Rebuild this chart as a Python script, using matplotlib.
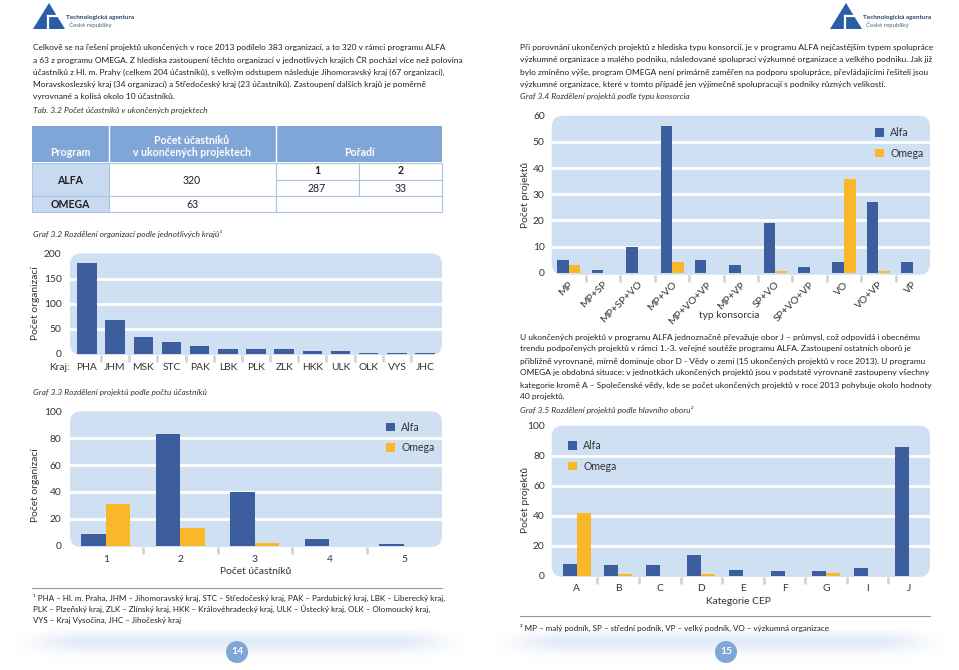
import numpy as np
import matplotlib.pyplot as plt
import matplotlib.transforms as mtransforms
from matplotlib.patches import Rectangle, FancyBboxPatch, Circle, Polygon

W, H = 959, 670
plt.rcParams['font.family'] = ['Lato', 'DejaVu Sans']

ALFA_C = '#3c5e9e'
OMEGA_C = '#fbb72a'
BG_C = '#cfe0f3'
TXT = '#231f20'
LBL = '#333333'

# Graf 3.2 - organizace podle kraju
kraje = ['PHA', 'JHM', 'MSK', 'STC', 'PAK', 'LBK', 'PLK', 'ZLK', 'HKK', 'ULK', 'OLK', 'VYS', 'JHC']
kraje_pocet = [182, 67, 34, 23, 15, 10, 10, 10, 6, 6, 2, 2, 1]

# Graf 3.3 - projekty podle poctu ucastniku
ucastnici = ['1', '2', '3', '4', '5']
ucast_alfa = [9, 83, 40, 5, 1]
ucast_omega = [31, 13, 2, 0, 0]

# Graf 3.4 - typ konsorcia
konsorcia = ['MP', 'MP+SP', 'MP+SP+VO', 'MP+VO', 'MP+VO+VP', 'MP+VP',
             'SP+VO', 'SP+VO+VP', 'VO', 'VO+VP', 'VP']
kons_alfa = [5, 1, 10, 56, 5, 3, 19, 2, 4, 27, 4]
kons_omega = [3, 0, 0, 4, 0, 0, 0.5, 0, 36, 0.5, 0]

# Graf 3.5 - hlavni obor
obory = ['A', 'B', 'C', 'D', 'E', 'F', 'G', 'I', 'J']
obor_alfa = [8, 7, 7, 14, 4, 3, 3, 5, 86]
obor_omega = [42, 1, 0, 1, 0, 0, 2, 0, 0]

# Tab 3.2
tab_program = ['ALFA', 'OMEGA']
tab_pocet = ['320', '63']
tab_poradi = ['1', '2']
tab_poradi_val = ['287', '33']

par_left = [
    "Celkově se na řešení projektů ukončených v roce 2013 podílelo 383 organizací, a to 320 v rámci programu ALFA",
    "a 63 z programu OMEGA. Z hlediska zastoupení těchto organizací v jednotlivých krajích ČR pochází více než polovina",
    "účastníků z Hl. m. Prahy (celkem 204 účastníků), s velkým odstupem následuje Jihomoravský kraj (67 organizací),",
    "Moravskoslezský kraj (34 organizací) a Středočeský kraj (23 účastníků). Zastoupení dalších krajů je poměrně",
    "vyrovnané a kolísá okolo 10 účastníků.",
]
par_right1 = [
    "Při porovnání ukončených projektů z hlediska typu konsorcií, je v programu ALFA nejčastějším typem spolupráce",
    "výzkumné organizace a malého podniku, následované spoluprací výzkumné organizace a velkého podniku. Jak již",
    "bylo zmíněno výše, program OMEGA není primárně zaměřen na podporu spolupráce, převládajícími řešiteli jsou",
    "výzkumné organizace, které v tomto případě jen výjimečně spolupracují s podniky různých velikostí.",
]
par_right2 = [
    "U ukončených projektů v programu ALFA jednoznačně převažuje obor J – průmysl, což odpovídá i obecnému",
    "trendu podpořených projektů v rámci 1.-3. veřejné soutěže programu ALFA. Zastoupení ostatních oborů je",
    "přibližně vyrovnané, mírně dominuje obor D - Vědy o zemi (15 ukončených projektů v roce 2013). U programu",
    "OMEGA je obdobná situace: v jednotkách ukončených projektů jsou v podstatě vyrovnaně zastoupeny všechny",
    "kategorie kromě A – Společenské vědy, kde se počet ukončených projektů v roce 2013 pohybuje okolo hodnoty",
    "40 projektů.",
]
foot_left = [
    "¹ PHA – Hl. m. Praha, JHM – Jihomoravský kraj, STC – Středočeský kraj, PAK – Pardubický kraj, LBK – Liberecký kraj,",
    "PLK – Plzeňský kraj, ZLK – Zlínský kraj, HKK – Královéhradecký kraj, ULK – Ústecký kraj, OLK – Olomoucký kraj,",
    "VYS – Kraj Vysočina, JHC – Jihočeský kraj",
]
foot_right = "² MP – malý podník, SP – střední podník, VP – velký podník, VO – výzkumná organizace"

TS = 7.4    # tick labels
AS = 7.4    # axis titles

fig = plt.figure(figsize=(W / 100, H / 100), dpi=100)
page = fig.add_axes([0, 0, 1, 1])
page.set_xlim(0, W)
page.set_ylim(H, 0)
page.axis('off')


def lines(x, y0, rows, dy=12.5, size=6.0, **kw):
    for i, r in enumerate(rows):
        page.text(x, y0 + i * dy, r, fontsize=size, color=TXT, va='center', ha='left', **kw)


def logo(x0, tx):
    page.add_patch(Polygon([(x0, 29), (x0 + 16, 3), (x0 + 32, 29)], closed=True, fc='#2b5ca6', ec='none'))
    page.plot([x0 + 15, x0 + 33], [16, 16], color='white', lw=1.6)
    page.plot([x0 + 15, x0 + 15], [16, 30], color='white', lw=1.6)
    page.text(tx, 17, 'Technologická agentura', fontsize=4.6, color='#2a3f66', va='center', fontweight='bold')
    page.text(tx + 3, 25, 'České republiky', fontsize=4.4, color='#556080', va='center')


logo(33, 66)
logo(830, 863)

# texty
lines(33, 47, par_left)
lines(520, 47, par_right1)
lines(520, 337, par_right2, dy=12)
cap = dict(fontsize=6.0, style='italic', color=LBL, va='center')
page.text(33, 111, 'Tab. 3.2 Počet účastníků v ukončených projektech', **cap)
page.text(33, 234, 'Graf 3.2 Rozdělení organizací podle jednotlivých krajů¹', **cap)
page.text(33, 392, 'Graf 3.3 Rozdělení projektů podle počtu účastníků', **cap)
page.text(520, 97, 'Graf 3.4 Rozdělení projektů podle typu konsorcia', **cap)
page.text(520, 410, 'Graf 3.5 Rozdělení projektů podle hlavního oboru²', **cap)

# tabulka
HEAD = '#7fa6d6'
PROG = '#c8daf0'
EDGE = '#a9c4e4'
page.add_patch(Rectangle((32, 126), 410, 36, fc=HEAD, ec='none'))
for xv in [109, 276]:
    page.plot([xv, xv], [126, 162], color='white', lw=1)
page.add_patch(Rectangle((32, 163), 77, 33, fc=PROG, ec=EDGE, lw=0.8))
page.add_patch(Rectangle((32, 196), 77, 16, fc=PROG, ec=EDGE, lw=0.8))
for (x, y, w, h) in [(109, 163, 167, 33), (109, 196, 167, 16), (276, 163, 83, 16.5), (359, 163, 83, 16.5),
                     (276, 179.5, 83, 16.5), (359, 179.5, 83, 16.5), (276, 196, 166, 16)]:
    page.add_patch(Rectangle((x, y), w, h, fc='white', ec=EDGE, lw=0.8))
hd = dict(fontsize=7.6, color='white', fontweight='bold', ha='center', va='center')
page.text(70, 152, 'Program', **hd)
page.text(192, 140, 'Počet účastníků', **hd)
page.text(192, 152, 'v ukončených projektech', **hd)
page.text(359, 152, 'Pořadí', **hd)
for i, (p, n) in enumerate(zip(tab_program, tab_pocet)):
    yy = [180, 204][i]
    page.text(70, yy, p, fontsize=7.6, color=TXT, fontweight='bold', ha='center', va='center')
    page.text(192, yy, n, fontsize=7.6, color=TXT, ha='center', va='center')
for i, (r, v) in enumerate(zip(tab_poradi, tab_poradi_val)):
    xx = [317, 401][i]
    page.text(xx, 171, r, fontsize=7.6, color=TXT, fontweight='bold', ha='center', va='center')
    page.text(xx, 188, v, fontsize=7.6, color=TXT, ha='center', va='center')

# poznamky pod carou
page.plot([32, 442], [588, 588], color='#999999', lw=0.8)
lines(33, 598, foot_left, dy=11, size=5.8)
page.plot([520, 930], [616, 616], color='#999999', lw=0.8)
lines(520, 628, [foot_right], size=5.8)

# spodni pruh a cisla stran
band = np.zeros((40, W, 4))
band[..., 0], band[..., 1], band[..., 2] = 0.80, 0.86, 0.94
yy = np.linspace(0, 1, 40)[:, None]
xx = np.arange(W)[None, :]
hprof = np.clip(np.minimum(np.minimum(xx - 15, 465 - xx) / 60, 1), 0, 1) + \
    np.clip(np.minimum(np.minimum(xx - 495, 945 - xx) / 60, 1), 0, 1)
band[..., 3] = 0.55 * np.exp(-((yy - 0.3) / 0.25) ** 2) * hprof
page.imshow(band, extent=(0, W, 670, 630), aspect='auto', zorder=0)
page.set_xlim(0, W)
page.set_ylim(H, 0)
for cx, num in [(237, '14'), (726, '15')]:
    page.add_patch(Circle((cx, 652), 11, fc='#7ea7d8', ec='none', zorder=2))
    page.text(cx, 652, num, fontsize=7.5, color='white', fontweight='bold', ha='center', va='center', zorder=3)


def chart_axes(x0, y0, x1, y1):
    page.add_patch(FancyBboxPatch((x0, y0), x1 - x0, y1 - y0,
                                  boxstyle='round,pad=0,rounding_size=11', fc=BG_C, ec='none'))
    ax = fig.add_axes([x0 / W, 1 - y1 / H, (x1 - x0) / W, (y1 - y0) / H])
    ax.patch.set_visible(False)
    for s in ax.spines.values():
        s.set_visible(False)
    return ax


def style(ax, yt, n, xpad, ypad):
    for v in yt[1:-1]:
        ax.axhline(v, color='white', lw=2, zorder=1)
    ax.set_yticks(yt)
    ax.set_xticks(np.arange(n)[:-1] + 0.5, minor=True)
    ax.tick_params(axis='both', which='major', length=0, labelsize=TS, labelcolor=LBL)
    ax.tick_params(axis='x', which='major', pad=xpad)
    ax.tick_params(axis='y', which='major', pad=ypad)
    ax.tick_params(axis='x', which='minor', length=5, width=2, color='#d4d4d4')
    ax.tick_params(axis='y', which='minor', length=0)


def legend(ax, bars, anchor):
    ax.legend(bars, ['Alfa', 'Omega'], loc='upper left', bbox_to_anchor=anchor, frameon=False,
              fontsize=7.6, labelcolor=LBL, handlelength=0.85, handleheight=0.85, handletextpad=0.6,
              labelspacing=0.9, borderpad=0, borderaxespad=0)


# Graf 3.2
ax = chart_axes(70, 253.5, 442, 355)
x = np.arange(len(kraje))
ax.bar(x, kraje_pocet, width=0.69, color=ALFA_C, zorder=3)
ax.set_xlim(-0.6, 12.6)
ax.set_ylim(-2, 200)
ax.set_xticks(x, kraje)
style(ax, [0, 50, 100, 150, 200], len(kraje), 6, 6)
page.text(49, 367, 'Kraj:', fontsize=TS, color=LBL, va='center')
page.text(36, 303, 'Počet organizací', fontsize=AS, color=LBL, rotation=90, ha='center', va='center')

# Graf 3.3
ax = chart_axes(70, 411.3, 442, 547)
x = np.arange(len(ucastnici))
b1 = ax.bar(x - 0.165, ucast_alfa, width=0.33, color=ALFA_C, zorder=3)
b2 = ax.bar(x + 0.165, ucast_omega, width=0.33, color=OMEGA_C, zorder=3)
ax.set_xlim(-0.48, 4.51)
ax.set_ylim(-1, 100)
ax.set_xticks(x, ucastnici)
style(ax, [0, 20, 40, 60, 80, 100], len(ucastnici), 6, 6)
legend(ax, [b1, b2], (0.849, 0.924))
page.text(256, 572, 'Počet účastníků', fontsize=AS, color=LBL, ha='center', va='center')
page.text(36, 485, 'Počet organizací', fontsize=AS, color=LBL, rotation=90, ha='center', va='center')

# Graf 3.4
ax = chart_axes(551.7, 115.7, 930, 274.8)
x = np.arange(len(konsorcia))
b1 = ax.bar(x - 0.168, kons_alfa, width=0.335, color=ALFA_C, zorder=3)
b2 = ax.bar(x + 0.168, kons_omega, width=0.335, color=OMEGA_C, zorder=3)
ax.set_xlim(-0.5, 10.5)
ax.set_ylim(-0.8, 60)
ax.set_xticks(x, konsorcia, rotation=45, ha='right', va='center', rotation_mode='anchor')
style(ax, [0, 10, 20, 30, 40, 50, 60], len(konsorcia), 1, 5)
shift = mtransforms.ScaledTranslation(3 / 100, -7 / 100, fig.dpi_scale_trans)
for lab in ax.get_xticklabels():
    lab.set_transform(lab.get_transform() + shift)
legend(ax, [b1, b2], (0.855, 0.928))
page.text(729, 316, 'typ konsorcia', fontsize=AS, color=LBL, ha='center', va='center')
page.text(525, 195, 'Počet projektů', fontsize=AS, color=LBL, rotation=90, ha='center', va='center')

# Graf 3.5
ax = chart_axes(551.7, 425.7, 930, 577)
x = np.arange(len(obory))
b1 = ax.bar(x - 0.168, obor_alfa, width=0.337, color=ALFA_C, zorder=3)
b2 = ax.bar(x + 0.168, obor_omega, width=0.337, color=OMEGA_C, zorder=3)
ax.set_xlim(-0.6, 8.5)
ax.set_ylim(-1, 100)
ax.set_xticks(x, obory)
style(ax, [0, 20, 40, 60, 80, 100], len(obory), 5, 5)
legend(ax, [b1, b2], (0.043, 0.905))
page.text(738, 601, 'Kategorie CEP', fontsize=AS, color=LBL, ha='center', va='center')
page.text(525, 500, 'Počet projektů', fontsize=AS, color=LBL, rotation=90, ha='center', va='center')

fig.savefig('out.png', dpi=100)
